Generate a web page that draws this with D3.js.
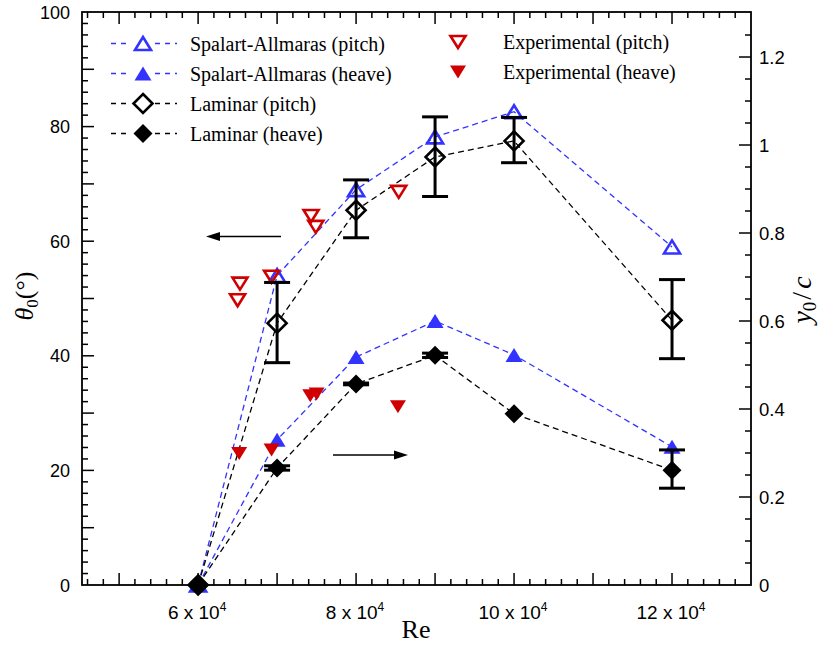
<!DOCTYPE html>
<html>
<head>
<meta charset="utf-8">
<script src="https://cdn.jsdelivr.net/npm/d3@7"></script>
<style>
  html, body { margin: 0; padding: 0; background: #fff; }
  svg { display: block; }
  .tick-label { font-family: "Liberation Sans", Arial, sans-serif; fill: #000; }
  .serif { font-family: "Liberation Serif", "Times New Roman", serif; fill: #000; }
</style>
</head>
<body>
<svg id="chart" width="823" height="645"></svg>
<script>
// Reynolds numbers (in units of 10^4) for the simulations
const reModel = [6, 7, 8, 9, 10, 12];

// Spalart-Allmaras results
const saPitch = [0, 54.0, 69.0, 78.2, 82.6, 59.0];        // theta_0 (deg)
const saHeave = [0, 0.33, 0.518, 0.60, 0.523, 0.314];     // y_0 / c

// Laminar results with spread
const lamPitch   = [0, 45.7, 65.4, 74.7, 77.5, 46.2];
const lamPitchLo = [null, 38.8, 60.6, 67.8, 73.7, 39.5];
const lamPitchHi = [null, 52.8, 70.7, 81.7, 81.6, 53.3];
const lamHeave   = [0, 0.266, 0.457, 0.522, 0.389, 0.261];
const lamHeaveLo = [null, 0.261, 0.455, 0.517, null, 0.220];
const lamHeaveHi = [null, 0.271, 0.459, 0.527, null, 0.307];

// Experimental measurements
const reExpPitch = [6.50, 6.53, 6.93, 7.43, 7.49, 8.54];
const expPitch   = [49.7, 52.6, 53.8, 64.4, 62.5, 68.6];
const reExpHeave = [6.52, 6.93, 7.42, 7.50, 8.53];
const expHeave   = [0.299, 0.307, 0.430, 0.434, 0.405];

// Axis tick labels
const xTickLabels = [6, 8, 10, 12];
const leftTickLabels = [0, 20, 40, 60, 80, 100];
const rightTickLabels = [0, 0.2, 0.4, 0.6, 0.8, 1, 1.2];

const BLUE = "#3333ff";
const RED = "#d00000";

const svg = d3.select("#chart");
const L = 82, R = 751, T = 12, B = 585;

const x = d3.scaleLinear().domain([4.53, 13.0]).range([L, R]);
const yL = d3.scaleLinear().domain([0, 100]).range([B, T]);
const yR = d3.scaleLinear().domain([0, 1.3023]).range([B, T]);

// ---- axes: ticks point inward, on all four sides ----
const axG = svg.append("g").attr("stroke", "#000").attr("stroke-width", 1.5);
const xMinor = d3.range(4.6, 13.0, 0.2).map(v => +v.toFixed(1));
xMinor.forEach(v => {
  const major = Math.abs(v - Math.round(v)) < 1e-6;
  const len = major ? 12 : 6;
  axG.append("line").attr("x1", x(v)).attr("x2", x(v)).attr("y1", B).attr("y2", B - len);
  axG.append("line").attr("x1", x(v)).attr("x2", x(v)).attr("y1", T).attr("y2", T + len);
});
d3.range(2, 100, 2).forEach(v => {
  const len = v % 10 === 0 ? 12 : 6;
  axG.append("line").attr("x1", L).attr("x2", L + len).attr("y1", yL(v)).attr("y2", yL(v));
});
d3.range(1, 26).map(k => k * 0.05).forEach(v => {
  const major = Math.abs(v / 0.2 - Math.round(v / 0.2)) < 1e-6;
  const len = major ? 12 : 6;
  axG.append("line").attr("x1", R).attr("x2", R - len).attr("y1", yR(v)).attr("y2", yR(v));
});
svg.append("rect").attr("x", L).attr("y", T).attr("width", R - L).attr("height", B - T)
  .attr("fill", "none").attr("stroke", "#000").attr("stroke-width", 1.8);

// tick labels
const xl = svg.append("g");
xTickLabels.forEach(v => {
  const t = xl.append("text").attr("class", "tick-label").attr("x", x(v) - 1).attr("y", 619)
    .attr("text-anchor", "middle").attr("font-size", 19);
  t.append("tspan").text(v + " x 10");
  t.append("tspan").attr("dy", -8).attr("font-size", 12).text("4");
});
leftTickLabels.forEach(v => {
  svg.append("text").attr("class", "tick-label").attr("x", 70).attr("y", yL(v) + 6.5)
    .attr("text-anchor", "end").attr("font-size", 18).text(v);
});
rightTickLabels.forEach(v => {
  svg.append("text").attr("class", "tick-label").attr("x", 759).attr("y", yR(v) + 6.5)
    .attr("text-anchor", "start").attr("font-size", 18.5).text(v);
});

// axis titles
svg.append("text").attr("class", "serif").attr("x", 416).attr("y", 638)
  .attr("text-anchor", "middle").attr("font-size", 26).text("Re");

const tl = svg.append("text").attr("class", "serif").attr("font-size", 26)
  .attr("text-anchor", "middle").attr("transform", "translate(33,296) rotate(-90)");
tl.append("tspan").attr("font-style", "italic").text("θ");
tl.append("tspan").attr("font-size", 17).attr("dy", 5).text("0");
tl.append("tspan").attr("dy", -5).text("(°)");

const tr = svg.append("text").attr("class", "serif").attr("font-size", 28)
  .attr("text-anchor", "middle").attr("transform", "translate(811,300) rotate(-90)");
tr.append("tspan").attr("font-style", "italic").text("y");
tr.append("tspan").attr("font-size", 19).attr("dy", 5).text("0");
tr.append("tspan").attr("dy", -5).attr("dx", 2).text("/");
tr.append("tspan").attr("font-style", "italic").attr("dx", 3).text("c");

// ---- marker shapes ----
function triUp(g, cx, cy, w, h) {
  return g.append("path").attr("d", `M${cx - w / 2},${cy + h / 2}L${cx + w / 2},${cy + h / 2}L${cx},${cy - h / 2}Z`);
}
function triDown(g, cx, cy, w, h) {
  return g.append("path").attr("d", `M${cx - w / 2},${cy - h / 2}L${cx + w / 2},${cy - h / 2}L${cx},${cy + h / 2}Z`);
}
function diamond(g, cx, cy, r) {
  return g.append("path").attr("d", `M${cx},${cy - r}L${cx + r},${cy}L${cx},${cy + r}L${cx - r},${cy}Z`);
}
const markers = {
  saPitch: (g, cx, cy) => triUp(g, cx, cy, 16, 13).attr("fill", "none").attr("stroke", BLUE).attr("stroke-width", 2.6),
  saHeave: (g, cx, cy) => triUp(g, cx, cy, 17, 14).attr("fill", BLUE),
  lamPitch: (g, cx, cy) => diamond(g, cx, cy, 9.5).attr("fill", "none").attr("stroke", "#000").attr("stroke-width", 2.6),
  lamHeave: (g, cx, cy) => diamond(g, cx, cy, 9.5).attr("fill", "#000"),
  expPitch: (g, cx, cy) => triDown(g, cx, cy, 15, 12).attr("fill", "none").attr("stroke", RED).attr("stroke-width", 2.6),
  expHeave: (g, cx, cy) => triDown(g, cx, cy, 16, 13).attr("fill", RED)
};

// ---- dashed model curves ----
const lineL = d3.line().x((d, i) => x(reModel[i])).y(d => yL(d));
const lineR = d3.line().x((d, i) => x(reModel[i])).y(d => yR(d));
const curves = svg.append("g").attr("fill", "none").attr("stroke-width", 1.3).attr("stroke-dasharray", "6,4");
curves.append("path").attr("d", lineL(saPitch)).attr("stroke", BLUE);
curves.append("path").attr("d", lineR(saHeave)).attr("stroke", BLUE);
curves.append("path").attr("d", lineL(lamPitch)).attr("stroke", "#000");
curves.append("path").attr("d", lineR(lamHeave)).attr("stroke", "#000");

// ---- markers ----
const mk = svg.append("g");
saPitch.forEach((v, i) => markers.saPitch(mk, x(reModel[i]), yL(v)));
saHeave.forEach((v, i) => markers.saHeave(mk, x(reModel[i]), yR(v)));
expPitch.forEach((v, i) => markers.expPitch(mk, x(reExpPitch[i]), yL(v)));
expHeave.forEach((v, i) => markers.expHeave(mk, x(reExpHeave[i]), yR(v)));

// error bars for laminar runs
const eb = svg.append("g").attr("stroke", "#000").attr("stroke-width", 3);
function errorBar(cx, y1, y2) {
  eb.append("line").attr("x1", cx).attr("x2", cx).attr("y1", y1).attr("y2", y2);
  eb.append("line").attr("x1", cx - 13).attr("x2", cx + 13).attr("y1", y1).attr("y2", y1);
  eb.append("line").attr("x1", cx - 13).attr("x2", cx + 13).attr("y1", y2).attr("y2", y2);
}
reModel.forEach((re, i) => {
  if (lamPitchLo[i] != null) errorBar(x(re), yL(lamPitchLo[i]), yL(lamPitchHi[i]));
  if (lamHeaveLo[i] != null) errorBar(x(re), yR(lamHeaveLo[i]), yR(lamHeaveHi[i]));
});
const mk2 = svg.append("g");
lamPitch.forEach((v, i) => markers.lamPitch(mk2, x(reModel[i]), yL(v)));
lamHeave.forEach((v, i) => markers.lamHeave(mk2, x(reModel[i]), yR(v)));

// ---- arrows pointing to each axis ----
function arrow(x1, x2, y) {
  const dir = Math.sign(x2 - x1);
  svg.append("line").attr("x1", x1).attr("x2", x2 - dir * 10).attr("y1", y).attr("y2", y)
    .attr("stroke", "#000").attr("stroke-width", 1.3);
  svg.append("path").attr("d", `M${x2},${y}L${x2 - dir * 14},${y - 4.5}L${x2 - dir * 14},${y + 4.5}Z`).attr("fill", "#000");
}
arrow(281, 206, 236.5);
arrow(333, 408, 455);

// ---- legend ----
const legendLeft = [
  { key: "saPitch", label: "Spalart-Allmaras (pitch)", color: BLUE },
  { key: "saHeave", label: "Spalart-Allmaras (heave)", color: BLUE },
  { key: "lamPitch", label: "Laminar (pitch)", color: "#000" },
  { key: "lamHeave", label: "Laminar (heave)", color: "#000" }
];
const legendRight = [
  { key: "expPitch", label: "Experimental (pitch)" },
  { key: "expHeave", label: "Experimental (heave)" }
];
const lg = svg.append("g");
legendLeft.forEach((d, i) => {
  const cy = 43.5 + i * 30;
  [[111, 131], [155, 177]].forEach(([a, b]) => {
    lg.append("line").attr("x1", a).attr("x2", b).attr("y1", cy).attr("y2", cy)
      .attr("stroke", d.color).attr("stroke-width", 1.3).attr("stroke-dasharray", "5,5");
  });
  markers[d.key](lg, 143, cy);
  lg.append("text").attr("class", "serif").attr("x", 190).attr("y", cy + 7)
    .attr("font-size", 20).text(d.label);
});
legendRight.forEach((d, i) => {
  const cy = 42 + i * 30;
  markers[d.key](lg, 458, cy);
  lg.append("text").attr("class", "serif").attr("x", 503).attr("y", cy + 7)
    .attr("font-size", 20).text(d.label);
});
</script>
</body>
</html>
